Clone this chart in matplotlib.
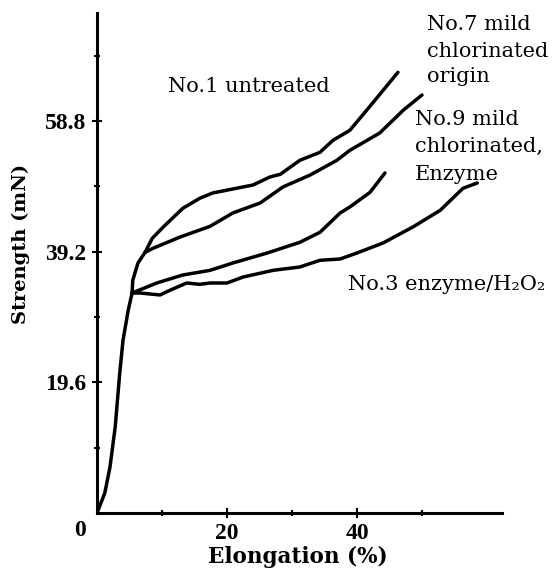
import matplotlib
matplotlib.use("Agg")
import matplotlib.pyplot as plt
from matplotlib.ticker import FixedLocator

# Data (elongation %, strength mN)
stem_x = [0.0, 1.2, 2.0, 2.8, 3.5, 4.0, 4.8, 5.4]
stem_y = [0.0, 3.0, 6.9, 12.9, 21.0, 25.9, 30.4, 33.0]

upper_stem_x = [5.4, 5.5, 6.3, 7.4]
upper_stem_y = [33.0, 34.9, 37.5, 39.1]

curve_a_x = [7.4, 8.5, 10.2, 13.2, 15.8, 17.8, 20.9, 24.0, 26.6, 28.2, 31.2, 34.3, 36.3, 38.9, 42.5, 46.3]
curve_a_y = [39.1, 41.2, 42.9, 45.7, 47.2, 48.0, 48.6, 49.2, 50.4, 50.8, 52.9, 54.1, 55.9, 57.4, 61.6, 66.1]

curve_b_x = [7.4, 8.6, 12.8, 17.4, 20.9, 25.1, 28.6, 32.8, 36.9, 38.9, 43.5, 47.1, 50.0]
curve_b_y = [39.1, 39.7, 41.4, 43.0, 45.0, 46.5, 48.9, 50.7, 52.9, 54.4, 57.0, 60.4, 62.7]

curve_c_x = [5.4, 9.2, 13.2, 17.4, 20.9, 26.2, 31.2, 34.3, 37.4, 38.9, 42.0, 44.3]
curve_c_y = [33.0, 34.5, 35.7, 36.4, 37.5, 39.0, 40.6, 42.1, 45.0, 45.9, 48.1, 51.0]

curve_d_x = [5.4, 6.6, 9.7, 11.2, 13.8, 15.8, 17.4, 20.0, 22.5, 27.1, 31.2, 34.3, 37.4, 40.0, 44.0, 48.6, 52.8, 56.3, 58.5]
curve_d_y = [33.0, 33.0, 32.7, 33.4, 34.5, 34.3, 34.5, 34.5, 35.4, 36.4, 36.9, 37.9, 38.1, 39.0, 40.5, 42.9, 45.4, 48.7, 49.5]

y_ticks = [19.6, 39.2, 58.8]
y_tick_labels = ["19.6", "39.2", "58.8"]
y_minor = [9.8, 29.4, 49.0, 68.6]
x_ticks = [20, 40]
x_tick_labels = ["20", "40"]
x_minor = [10, 30, 50]

label_no7 = ["No.7 mild", "chlorinated", "origin"]
label_no9 = ["No.9 mild", "chlorinated,", "Enzyme"]
label_no1 = "No.1 untreated"
label_no3 = "No.3 enzyme/H\u2082O\u2082"

W, H = 553, 579
fig = plt.figure(figsize=(W / 100, H / 100), dpi=100)
ax = fig.add_axes([97 / W, (H - 513) / H, 405 / W, 500 / H])
ax.set_xlim(0, 405 / 6.5)
ax.set_ylim(0, 500 / 6.667)

lw = 2.5
for xs, ys in [(stem_x, stem_y), (upper_stem_x, upper_stem_y),
               (curve_a_x, curve_a_y), (curve_b_x, curve_b_y),
               (curve_c_x, curve_c_y), (curve_d_x, curve_d_y)]:
    ax.plot(xs, ys, color="black", lw=lw, solid_capstyle="round", solid_joinstyle="round")

for s in ["top", "right"]:
    ax.spines[s].set_visible(False)
for s in ["left", "bottom"]:
    ax.spines[s].set_linewidth(2.2)

ax.set_yticks(y_ticks)
ax.set_yticklabels(y_tick_labels)
ax.set_xticks(x_ticks)
ax.set_xticklabels(x_tick_labels)
ax.yaxis.set_minor_locator(FixedLocator(y_minor))
ax.xaxis.set_minor_locator(FixedLocator(x_minor))
ax.tick_params(axis="both", which="major", direction="inout", length=7, width=1.5, pad=4)
ax.tick_params(axis="both", which="minor", direction="inout", length=5, width=1.5)

for lab in ax.get_yticklabels() + ax.get_xticklabels():
    lab.set_fontfamily("Liberation Serif")
    lab.set_fontweight("bold")
    lab.set_fontsize(17)

fig.text(80 / W, 1 - 530 / H, "0", ha="center", va="center",
         family="Liberation Serif", weight="bold", size=17)
fig.text(21 / W, 1 - 244 / H, "Strength (mN)", rotation=90, ha="center", va="center",
         family="DejaVu Serif", weight="bold", size=14)
fig.text(298 / W, 1 - 557 / H, "Elongation (%)", ha="center", va="center",
         family="DejaVu Serif", weight="bold", size=15.5)

ann = dict(family="DejaVu Serif", size=15, color="black", ha="left", va="baseline")
fig.text(168 / W, 1 - 92 / H, label_no1, **ann)
for line, base in zip(label_no7, [30, 57, 82]):
    fig.text(427 / W, 1 - base / H, line, **ann)
for line, base in zip(label_no9, [125, 152, 180]):
    fig.text(415 / W, 1 - base / H, line, **ann)
fig.text(348 / W, 1 - 290 / H, label_no3, **ann)

fig.savefig("out.png", dpi=100)
